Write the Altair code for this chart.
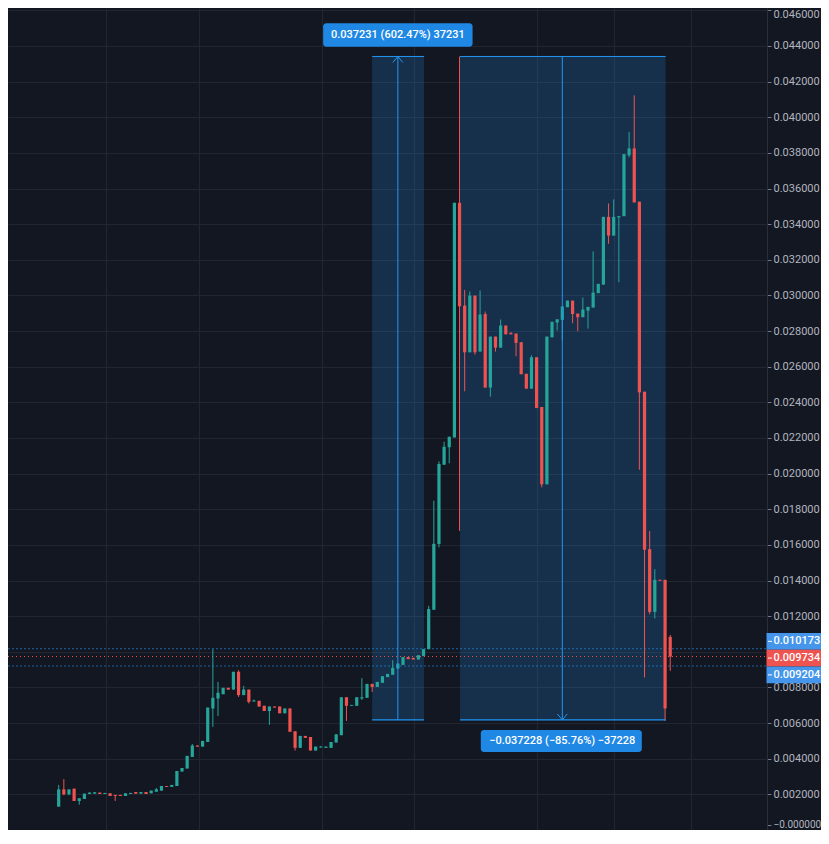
import altair as alt
import pandas as pd

FONT = "Roboto"
BG = "#131722"
GRID = "#222631"
UP = "#26a69a"
DOWN = "#ef5350"
TOOL = "#2196f3"
LABEL_BG = "#1f88e5"
BADGE_BLUE = "#4596ea"
BADGE_RED = "#ef5350"

# ---- candle data ----
opens = [0.00131, 0.00228, 0.00200, 0.00232, 0.00163, 0.00174, 0.00202, 0.00204, 0.00210, 0.00202,
         0.00206, 0.00197, 0.00197, 0.00191, 0.00202, 0.00213, 0.00204, 0.00213, 0.00206, 0.00215,
         0.00221, 0.00247, 0.00242, 0.00247, 0.00328, 0.00345, 0.00410, 0.00474, 0.00468, 0.00494,
         0.00682, 0.00738, 0.00762, 0.00798, 0.00788, 0.00888, 0.00757, 0.00788, 0.00721, 0.00725,
         0.00697, 0.00668, 0.00693, 0.00693, 0.00655, 0.00682, 0.00554, 0.00461, 0.00528, 0.00522,
         0.00446, 0.00463, 0.00461, 0.00461, 0.00491, 0.00532, 0.00745, 0.00697, 0.00697, 0.00738,
         0.00742, 0.00820, 0.00803, 0.00826, 0.00858, 0.00871, 0.00906, 0.00927, 0.00970, 0.00966,
         0.00957, 0.00977, 0.01015, 0.01236, 0.01605, 0.02050, 0.02148, 0.02203, 0.03520, 0.02943,
         0.02681, 0.02999, 0.02685, 0.02896, 0.02483, 0.02769, 0.02707, 0.02831, 0.02790, 0.02786,
         0.02737, 0.02560, 0.02477, 0.02653, 0.02374, 0.01940, 0.02765, 0.02848, 0.02863, 0.02934,
         0.02971, 0.02898, 0.02878, 0.02915, 0.02932, 0.03013, 0.03061, 0.03441, 0.03336, 0.03438,
         0.03445, 0.03786, 0.03825, 0.03526, 0.02460, 0.01576, 0.01224, 0.01404, 0.01404, 0.01084]
highs = [0.00253, 0.00285, 0.00228, 0.00232, 0.00178, 0.00204, 0.00210, 0.00212, 0.00210, 0.00208,
         0.00206, 0.00197, 0.00197, 0.00206, 0.00208, 0.00213, 0.00213, 0.00213, 0.00221, 0.00236,
         0.00247, 0.00247, 0.00253, 0.00331, 0.00348, 0.00416, 0.00483, 0.00474, 0.00500, 0.00687,
         0.01015, 0.00831, 0.00798, 0.00798, 0.00888, 0.00897, 0.00809, 0.00788, 0.00732, 0.00725,
         0.00697, 0.00693, 0.00693, 0.00693, 0.00682, 0.00682, 0.00554, 0.00528, 0.00528, 0.00522,
         0.00468, 0.00472, 0.00468, 0.00494, 0.00537, 0.00745, 0.00745, 0.00702, 0.00745, 0.00852,
         0.00820, 0.00820, 0.00831, 0.00863, 0.00876, 0.00953, 0.00934, 0.00970, 0.00970, 0.00966,
         0.00981, 0.01015, 0.01258, 0.01848, 0.02069, 0.02179, 0.02207, 0.03520, 0.04341, 0.03031,
         0.03022, 0.02999, 0.03028, 0.02910, 0.02769, 0.02769, 0.02865, 0.02831, 0.02794, 0.02786,
         0.02737, 0.02560, 0.02664, 0.02653, 0.02374, 0.02769, 0.02852, 0.02866, 0.02938, 0.02971,
         0.02971, 0.02898, 0.02988, 0.02936, 0.03247, 0.03065, 0.03441, 0.03516, 0.03539, 0.03445,
         0.03793, 0.03917, 0.04123, 0.03526, 0.02460, 0.01679, 0.01464, 0.01406, 0.01404, 0.01095]
lows = [0.00131, 0.00195, 0.00195, 0.00163, 0.00142, 0.00174, 0.00202, 0.00204, 0.00202, 0.00202,
        0.00191, 0.00163, 0.00191, 0.00191, 0.00202, 0.00204, 0.00204, 0.00202, 0.00206, 0.00215,
        0.00221, 0.00242, 0.00242, 0.00247, 0.00328, 0.00345, 0.00410, 0.00468, 0.00468, 0.00494,
        0.00579, 0.00640, 0.00762, 0.00788, 0.00788, 0.00747, 0.00757, 0.00710, 0.00721, 0.00693,
        0.00668, 0.00590, 0.00687, 0.00655, 0.00655, 0.00551, 0.00446, 0.00461, 0.00517, 0.00446,
        0.00446, 0.00463, 0.00461, 0.00461, 0.00491, 0.00532, 0.00612, 0.00697, 0.00697, 0.00730,
        0.00742, 0.00775, 0.00803, 0.00826, 0.00858, 0.00871, 0.00906, 0.00927, 0.00959, 0.00957,
        0.00957, 0.00977, 0.01015, 0.01236, 0.01586, 0.02050, 0.02058, 0.02203, 0.01679, 0.02462,
        0.02681, 0.02668, 0.02685, 0.02483, 0.02432, 0.02685, 0.02707, 0.02782, 0.02782, 0.02659,
        0.02558, 0.02477, 0.02477, 0.02368, 0.01923, 0.01940, 0.02765, 0.02803, 0.02747, 0.02934,
        0.02844, 0.02799, 0.02878, 0.02814, 0.02932, 0.03013, 0.03061, 0.03290, 0.03336, 0.03074,
        0.03445, 0.03775, 0.03522, 0.02022, 0.00856, 0.01211, 0.01187, 0.01399, 0.00612, 0.00893]
closes = [0.00228, 0.00200, 0.00228, 0.00163, 0.00178, 0.00204, 0.00210, 0.00212, 0.00202, 0.00208,
          0.00191, 0.00191, 0.00191, 0.00206, 0.00208, 0.00204, 0.00213, 0.00202, 0.00221, 0.00228,
          0.00247, 0.00242, 0.00253, 0.00331, 0.00348, 0.00416, 0.00474, 0.00468, 0.00500, 0.00687,
          0.00742, 0.00770, 0.00798, 0.00788, 0.00888, 0.00757, 0.00788, 0.00719, 0.00727, 0.00693,
          0.00668, 0.00693, 0.00687, 0.00655, 0.00682, 0.00551, 0.00461, 0.00528, 0.00517, 0.00446,
          0.00468, 0.00468, 0.00468, 0.00494, 0.00537, 0.00745, 0.00697, 0.00702, 0.00745, 0.00745,
          0.00820, 0.00803, 0.00831, 0.00863, 0.00876, 0.00910, 0.00934, 0.00970, 0.00959, 0.00957,
          0.00981, 0.01015, 0.01240, 0.01606, 0.02054, 0.02151, 0.02207, 0.03520, 0.02939, 0.02681,
          0.02999, 0.02681, 0.02893, 0.02483, 0.02769, 0.02707, 0.02831, 0.02782, 0.02782, 0.02734,
          0.02558, 0.02477, 0.02653, 0.02368, 0.01940, 0.02769, 0.02852, 0.02866, 0.02938, 0.02971,
          0.02896, 0.02878, 0.02921, 0.02936, 0.03016, 0.03065, 0.03441, 0.03336, 0.03441, 0.03445,
          0.03793, 0.03825, 0.03522, 0.02456, 0.01573, 0.01224, 0.01404, 0.01399, 0.00682, 0.009734]

# ---- axes / grid ----
price_ticks = [0.0, 0.0003, 0.002, 0.004, 0.006, 0.008, 0.010, 0.012, 0.014, 0.016, 0.018,
               0.020, 0.022, 0.024, 0.026, 0.028, 0.030, 0.032, 0.034, 0.036, 0.038, 0.040,
               0.042, 0.044, 0.046]
zero_label_tick = 0.0003
hidden_label_tick = 0.010
grid_x = [9.2, 27.4, 51.2, 69.1, 93.1, 108.1, 123.0]

# ---- price range tools ----
range_x0 = [61, 78.1]
range_x1 = [71.1, 118.1]
range_arrow = [66, 98]
range_lo = [0.006180, 0.006180]
range_hi = [0.043411, 0.043411]
range_text = ["0.037231 (602.47%) 37231", "\u22120.037228 (\u221285.76%) \u221237228"]

# ---- right-axis price badges ----
badge_values = [0.010173, 0.009734, 0.009204]
badge_text = ["0.010173", "0.009734", "0.009204"]
badge_colors = [BADGE_BLUE, BADGE_RED, BADGE_BLUE]
badge_shift = [-7.4, 1.5, 8.9]

W, H = 759, 822
RIGHT = 54

candles = pd.DataFrame({"i": list(range(len(opens))), "open": opens, "high": highs,
                        "low": lows, "close": closes})
candles["col"] = [UP if c >= o else DOWN for o, c in zip(opens, closes)]

ranges = pd.DataFrame({"x0": range_x0, "x1": range_x1, "ax": range_arrow,
                       "lo": range_lo, "hi": range_hi, "txt": range_text})

xs = alt.Scale(domain=[-8.891, 136.86], nice=False, zero=False)
ys = alt.Scale(domain=[0.0, 0.046132], nice=False, zero=False)

zero_test = f"abs(datum.value - {zero_label_tick}) < 0.0001"
xax = alt.Axis(values=grid_x, grid=True, gridColor=GRID, gridWidth=1, labels=False,
               ticks=False, domain=False, title=None)
yax = alt.Axis(orient="right", values=price_ticks, title=None, grid=True,
               gridColor={"condition": {"test": zero_test, "value": "rgba(0,0,0,0)"},
                          "value": GRID},
               tickColor={"condition": {"test": "datum.value < 0.0001 || abs(datum.value - 0.01) < 0.0001",
                                        "value": "rgba(0,0,0,0)"},
                          "value": "#787b86"},
               labelOffset={"condition": {"test": "datum.value > 0.0455", "value": 4}, "value": 0},
               labelFontSize={"condition": {"test": zero_test, "value": 10}, "value": 11},
               tickSize=4, domainColor="#2a2e39", labelColor="#b2b5be", labelFont=FONT,
               labelPadding=2, labelAlign="left", labelBaseline="middle",
               labelBound=False, labelFlush=False, labelOverlap=False,
               labelExpr=(f"{zero_test} ? '\u22120.000000' : "
                          f"(datum.value < 0.0001 || abs(datum.value - {hidden_label_tick}) < 0.0001 ? '' : "
                          "format(datum.value, '.6f'))"))


def X(f):
    return alt.X(f, type="quantitative", scale=xs, axis=xax)


def Y(f):
    return alt.Y(f, type="quantitative", scale=ys, axis=yax)


base_c = alt.Chart(candles)
base_r = alt.Chart(ranges)

fills = base_r.mark_rect(fill=TOOL, fillOpacity=0.2).encode(
    x=X("x0"), x2=alt.X2("x1"), y=Y("lo"), y2=alt.Y2("hi"))
top_lines = base_r.mark_rule(color=TOOL, strokeWidth=1).encode(
    x=X("x0"), x2=alt.X2("x1"), y=Y("hi"))
bot_lines = base_r.mark_rule(color=TOOL, strokeWidth=1.3).encode(
    x=X("x0"), x2=alt.X2("x1"), y=Y("lo"))
arrows = base_r.mark_rule(color=TOOL, strokeWidth=1).encode(
    x=X("ax"), y=Y("lo"), y2=alt.Y2("hi"))

up_head = alt.Chart(ranges.iloc[[0]]).mark_point(
    shape="M-1,1.2L0,0L1,1.2", size=100, filled=False, strokeWidth=1, color=TOOL, opacity=1
).encode(x=X("ax"), y=Y("hi"))
down_head = alt.Chart(ranges.iloc[[1]]).mark_point(
    shape="M-1,-1.2L0,0L1,-1.2", size=100, filled=False, strokeWidth=1, color=TOOL, opacity=1
).encode(x=X("ax"), y=Y("lo"))

wicks = base_c.mark_rule(strokeWidth=1).encode(
    x=X("i"), y=Y("low"), y2=alt.Y2("high"), color=alt.Color("col:N", scale=None))
bodies = base_c.mark_bar(size=3.2).encode(
    x=X("i"), y=Y("open"), y2=alt.Y2("close"), color=alt.Color("col:N", scale=None))

price_lines = pd.DataFrame({"v": badge_values, "c": badge_colors})
blue_lines = alt.Chart(price_lines.iloc[[0, 2]]).mark_rule(
    color=TOOL, strokeWidth=1, strokeDash=[2, 2], opacity=0.6
).encode(x=alt.value(0), x2=alt.value(W), y=Y("v"))
red_line = alt.Chart(price_lines.iloc[[1]]).mark_rule(
    color=DOWN, strokeWidth=1, strokeDash=[1, 3]
).encode(x=alt.value(0), x2=alt.value(W), y=Y("v"))

up_box = alt.Chart(ranges.iloc[[0]]).mark_rect(
    color=LABEL_BG, cornerRadius=3, xOffset=-74.7, x2Offset=74.7, yOffset=-33.2, y2Offset=-9.8
).encode(x=X("ax"), x2=alt.X2("ax"), y=Y("hi"), y2=alt.Y2("hi"))
up_txt = alt.Chart(ranges.iloc[[0]]).mark_text(
    color="white", font=FONT, fontSize=11, fontWeight=500, align="center", baseline="middle", dy=-21.5
).encode(x=X("ax"), y=Y("hi"), text="txt:N")
down_box = alt.Chart(ranges.iloc[[1]]).mark_rect(
    color=LABEL_BG, cornerRadius=3, xOffset=-81.5, x2Offset=79.5, yOffset=10, y2Offset=32
).encode(x=X("ax"), x2=alt.X2("ax"), y=Y("lo"), y2=alt.Y2("lo"))
down_txt = alt.Chart(ranges.iloc[[1]]).mark_text(
    color="white", font=FONT, fontSize=11, fontWeight=500, align="center", baseline="middle", dy=21
).encode(x=X("ax"), y=Y("lo"), text="txt:N")

badge_layers = []
for v, t, c, s in zip(badge_values, badge_text, badge_colors, badge_shift):
    d = pd.DataFrame({"v": [v], "t": [t]})
    b = alt.Chart(d)
    badge_layers.append(b.mark_rect(color=c, yOffset=s - 8.35, y2Offset=s + 8.35).encode(
        x=alt.value(W - 0.5), x2=alt.value(W + RIGHT), y=Y("v"), y2=alt.Y2("v")))
    badge_layers.append(b.mark_rule(color="white", strokeWidth=1, yOffset=s).encode(
        x=alt.value(W + 1), x2=alt.value(W + 5), y=Y("v")))
    badge_layers.append(b.mark_text(color="white", font=FONT, fontSize=11, fontWeight=500,
                                    align="left", baseline="middle", dy=s).encode(
        x=alt.value(W + 6.5), y=Y("v"), text="t:N"))

chart = alt.layer(
    fills, blue_lines, red_line, wicks, bodies, top_lines, bot_lines, arrows,
    up_head, down_head, up_box, up_txt, down_box, down_txt, *badge_layers
).properties(
    width=W, height=H, background=BG,
    padding={"left": 0, "top": 0, "right": RIGHT, "bottom": 0},
    autosize=alt.AutoSizeParams(type="none"),
).configure_view(stroke=None)

chart.save("out.html", embed_options={"renderer": "svg", "actions": False})
